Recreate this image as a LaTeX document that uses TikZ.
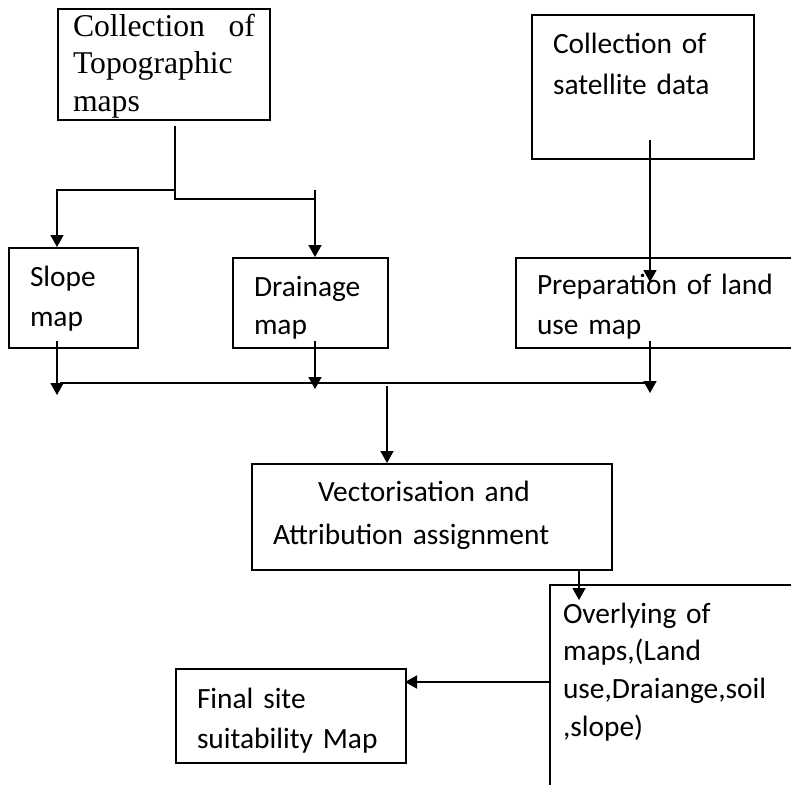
\documentclass[tikz,border=0pt]{standalone}
\usepackage{fontspec}
\setmainfont{Liberation Serif}
\newfontfamily\calibri{Carlito}
\usetikzlibrary{arrows.meta,positioning}

\begin{document}
\begin{tikzpicture}[x=0.5pt,y=-0.5pt,
    >={Triangle[length=6pt,width=6.5pt]},
    blk/.style={draw,line width=1pt,align=left,anchor=north west,
      inner xsep=10.5pt,inner ysep=0pt,
      font=\calibri\fontsize{14.7}{20}\selectfont},
    conn/.style={line width=0.75pt}]
  \useasboundingbox (0,0) rectangle (791,784);
  \clip (0,0) rectangle (791,784);
  % boxes
  \node[blk,inner xsep=7.5pt,text width=91pt,text height=13.5pt,text depth=42pt,
    font=\fontsize{15.85}{18.75}\selectfont] at (57,8) (topo)
    {Collection \hfill of\\Topographic\\maps};
  \node[blk,text width=90pt,text height=19pt,text depth=53pt,
    font=\calibri\fontsize{14.7}{20.5}\selectfont] at (531,14) (sat)
    {Collection of\\satellite data};
  \node[blk,text width=43.5pt,text height=19pt,text depth=31pt] at (8,247) (slope)
    {Slope\\map};
  \node[blk,text width=56.5pt,text height=19pt,text depth=26pt,
    font=\calibri\fontsize{14.7}{19}\selectfont] at (232,257) (drain)
    {Drainage\\map};
  \node[blk,text width=129pt,text height=18pt,text depth=27pt] at (515,257) (landuse)
    {Preparation of land\\use map};
  \node[blk,text width=159pt,text height=18.5pt,text depth=34.5pt,
    font=\calibri\fontsize{14.7}{21.5}\selectfont] at (251,463) (vect)
    {\hspace*{22.5pt}Vectorisation and\\Attribution assignment};
  \node[blk,text width=94pt,text height=19.5pt,text depth=27.5pt] at (175,668) (final)
    {Final site\\suitability Map};
  \node[blk,inner xsep=6.5pt,text width=122.5pt,text height=19pt,text depth=89pt,
    font=\calibri\fontsize{14.7}{18.85}\selectfont] at (549,584) (overlay)
    {Overlying of\\maps,(Land\\use,Draiange,soil\\,slope)};
  % junctions and arrow ends
  \coordinate (split) at (175,190);
  \coordinate (join) at (175,199);
  \coordinate (drainIn) at (315,190);
  \coordinate (slopeX) at (57,395);
  \coordinate (drainX) at (315,389);
  \coordinate (landIn) at (650,282);
  \coordinate (landX) at (650,393);
  \coordinate (busL) at (60,383);
  \coordinate (busOut) at (387,386);
  \coordinate (ovIn) at (579,600);
  \coordinate (finalIn) at (405,682);
  % connectors
  \draw[conn,shorten <=2.5pt] (topo.south -| join) -- (join) -- (join -| drainIn);
  \draw[conn,->] (split) -| (slope.north -| slopeX);
  \draw[conn,->] (drainIn) -- (drain.north -| drainIn);
  \draw[conn,->,shorten <=-10pt] (sat.south -| landIn) -- (landIn);
  \draw[conn,->,shorten <=-4pt] (slope.south -| slopeX) -- (slopeX);
  \draw[conn,->,shorten <=-4pt] (drain.south -| drainX) -- (drainX);
  \draw[conn,->,shorten <=-4pt] (landuse.south -| landX) -- (landX);
  \draw[conn] (busL) -- (busL -| landX);
  \draw[conn,->] (busOut) -- (vect.north -| busOut);
  \draw[conn,->] (vect.south -| ovIn) -- (ovIn);
  \draw[conn,->] (overlay.west |- finalIn) -- (finalIn);
\end{tikzpicture}
\end{document}
